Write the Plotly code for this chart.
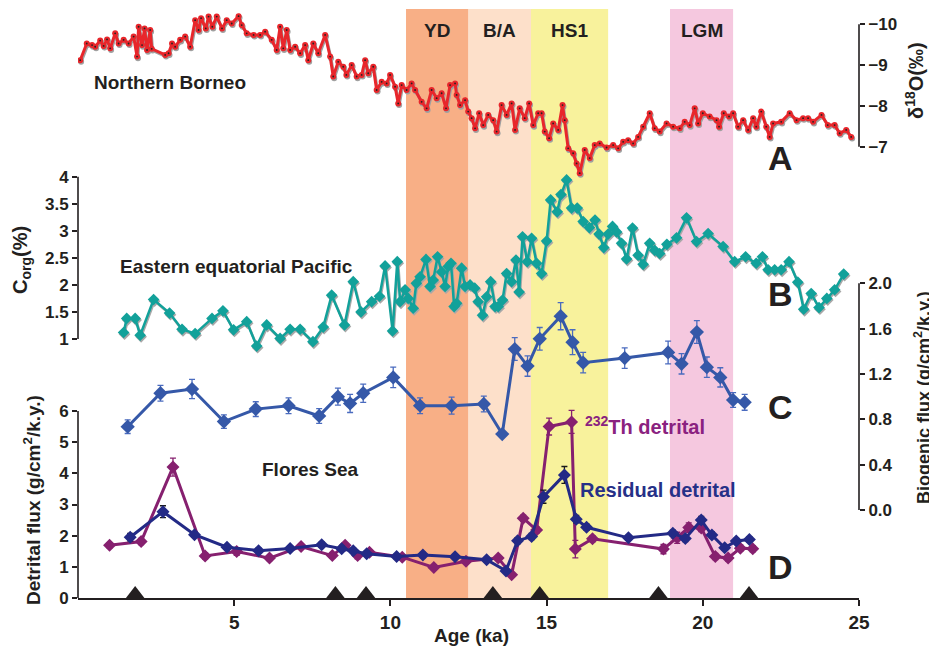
import plotly.graph_objects as go

# ---------------- data ----------------
# A: Northern Borneo speleothem d18O (permil)
a_age = [0.07,0.28,0.45,0.55,0.71,0.82,0.93,1.03,1.19,1.30,1.46,1.62,1.78,1.89,1.94,2.05,2.13,2.21,2.31,2.36,
         2.79,2.90,3.01,3.11,3.27,3.43,3.59,3.75,3.86,3.94,4.09,4.18,4.30,4.44,4.61,4.76,4.92,5.14,5.24,5.40,
         5.62,5.83,5.99,6.20,6.36,6.47,6.57,6.68,6.79,6.95,7.11,7.27,7.37,7.53,7.69,7.91,8.07,8.17,8.33,8.49,
         8.59,8.76,8.92,9.08,9.19,9.29,9.45,9.56,9.72,9.88,9.99,10.15,10.25,10.36,10.52,10.68,10.79,11.00,11.16,11.32,
         11.48,11.64,11.78,11.91,12.07,12.12,12.23,12.39,12.49,12.60,12.71,12.84,12.97,13.13,13.29,13.40,13.56,13.72,13.88,13.99,
         14.14,14.30,14.44,14.57,14.73,14.84,14.94,15.08,15.21,15.37,15.51,15.58,15.69,15.85,15.96,16.06,16.22,16.38,16.54,16.70,
         16.92,17.13,17.29,17.45,17.61,17.77,17.93,18.09,18.30,18.46,18.62,18.84,19.05,19.26,19.42,19.58,19.74,19.85,20.00,20.22,
         20.44,20.52,20.67,20.84,20.97,21.13,21.29,21.45,21.61,21.71,21.87,22.03,22.14,22.25,22.51,22.78,23.00,23.21,23.37,23.53,
         23.80,24.00,24.22,24.38,24.59,24.75]
a_d18o = [-9.12,-9.53,-9.49,-9.45,-9.60,-9.47,-9.63,-9.41,-9.78,-9.53,-9.62,-9.53,-9.70,-9.21,-9.94,-9.49,-9.90,-9.37,-9.86,-9.40,
          -9.25,-9.29,-9.53,-9.45,-9.62,-9.70,-9.45,-10.10,-9.86,-10.15,-9.90,-10.19,-9.94,-10.19,-9.90,-10.10,-10.02,-10.20,-9.98,-9.78,
          -9.74,-9.74,-9.82,-9.62,-9.37,-9.94,-9.41,-9.86,-9.37,-9.45,-9.29,-9.49,-9.12,-9.53,-9.29,-9.74,-9.21,-8.72,-9.08,-8.96,
          -8.76,-9.00,-8.72,-8.76,-9.12,-8.80,-8.96,-8.39,-8.59,-8.55,-8.76,-8.47,-8.06,-8.51,-8.39,-8.55,-8.39,-8.10,-7.94,-8.39,
          -8.19,-8.31,-7.94,-8.51,-8.55,-8.27,-8.02,-8.14,-7.86,-7.70,-7.45,-7.82,-7.53,-7.78,-7.65,-7.37,-8.02,-7.78,-8.06,-7.41,
          -7.94,-7.70,-8.06,-7.53,-7.82,-7.82,-7.37,-7.21,-7.57,-7.41,-8.02,-7.65,-6.96,-6.84,-6.59,-6.35,-6.92,-6.72,-7.04,-7.08,
          -6.98,-7.04,-6.96,-7.12,-7.16,-7.08,-7.24,-7.49,-7.82,-7.45,-7.37,-7.57,-7.49,-7.45,-7.61,-7.53,-7.94,-7.57,-7.82,-7.74,
          -7.65,-7.49,-7.82,-7.74,-7.82,-7.49,-7.65,-7.41,-7.70,-7.49,-7.86,-7.49,-7.24,-7.57,-7.61,-7.82,-7.65,-7.70,-7.70,-7.61,
          -7.78,-7.53,-7.53,-7.33,-7.41,-7.24]

# B: Eastern equatorial Pacific Corg (%)
b_age = [1.46,1.56,1.83,1.99,2.42,2.93,3.33,3.75,4.29,4.64,4.98,5.40,5.72,6.04,6.47,6.79,7.11,7.52,7.85,8.12,
         8.53,8.81,9.06,9.40,9.65,9.83,10.07,10.22,10.31,10.47,10.57,10.73,10.83,10.95,11.14,11.27,11.37,11.51,11.64,11.75,
         11.85,11.94,12.04,12.12,12.28,12.39,12.55,12.70,12.81,12.95,13.08,13.21,13.35,13.45,13.59,13.72,13.88,14.02,14.12,14.23,
         14.38,14.52,14.68,14.84,15.00,15.13,15.34,15.46,15.64,15.80,15.98,16.17,16.37,16.55,16.68,16.83,16.97,17.11,17.24,17.40,
         17.56,17.75,17.93,18.09,18.30,18.46,18.62,18.85,19.16,19.48,19.80,20.17,20.65,21.02,21.37,21.71,21.91,22.09,22.30,22.51,
         22.76,23.04,23.23,23.47,23.72,23.97,24.22,24.51]
b_corg = [1.12,1.38,1.38,1.07,1.73,1.48,1.18,1.10,1.38,1.52,1.17,1.32,0.87,1.26,1.01,1.18,1.18,0.95,1.22,1.81,
          1.26,2.06,1.50,1.69,1.79,2.35,1.15,2.43,1.69,1.91,1.75,1.57,2.03,2.15,2.47,1.97,2.09,2.52,2.24,1.97,
          2.34,2.40,1.60,1.66,2.31,1.97,2.00,1.94,1.69,1.44,1.78,2.06,1.60,1.60,1.72,2.21,2.06,2.46,1.87,2.89,
          2.43,2.86,2.40,2.21,2.81,3.57,3.35,3.67,3.94,3.42,3.42,3.17,3.06,3.20,2.94,2.69,2.94,3.08,2.98,2.77,
          2.48,3.05,2.55,2.38,2.77,2.64,2.58,2.75,2.87,3.24,2.80,2.95,2.71,2.43,2.52,2.40,2.52,2.28,2.28,2.28,
          2.43,2.05,1.55,1.84,1.58,1.75,1.91,2.20]

# C: Flores Sea biogenic flux (g/cm2/k.y.)
c_age = [1.59,2.64,3.65,4.67,5.69,6.74,7.72,8.32,8.71,9.13,10.09,10.95,11.96,12.99,13.58,13.98,14.39,14.78,15.45,15.83,
         16.17,17.50,18.89,19.32,19.81,20.13,20.56,20.97,21.34]
c_flux = [0.735,1.03,1.067,0.78,0.89,0.92,0.83,1.00,0.94,1.03,1.17,0.92,0.92,0.935,0.67,1.42,1.27,1.51,1.71,1.48,
          1.30,1.34,1.39,1.29,1.57,1.26,1.17,0.97,0.95]
c_err = [0.06,0.07,0.085,0.06,0.065,0.07,0.065,0.075,0.08,0.08,0.09,0.07,0.075,0.07,0.02,0.10,0.09,0.10,0.12,0.11,
         0.09,0.09,0.10,0.09,0.10,0.09,0.085,0.065,0.07]

# D: Flores Sea detrital fluxes (g/cm2/k.y.)
res_age = [1.67,2.72,3.73,4.77,5.78,6.79,7.80,8.44,8.81,9.24,10.20,11.04,12.07,13.08,13.70,14.07,14.52,14.90,15.57,15.95,
           16.28,17.62,19.04,19.44,19.95,20.29,20.70,21.07,21.49]
res_flux = [1.95,2.77,2.03,1.63,1.52,1.59,1.71,1.58,1.52,1.42,1.33,1.38,1.32,1.23,0.87,1.84,1.97,3.25,3.95,2.53,
            2.27,1.93,2.08,1.91,2.50,2.02,1.61,1.83,1.88]
res_err = [0.12,0.19,0.08,0.08,0.08,0.08,0.08,0.08,0.08,0.08,0.08,0.08,0.07,0.07,0.05,0.10,0.10,0.21,0.27,0.12,
           0.10,0.08,0.10,0.10,0.12,0.10,0.08,0.08,0.09]

th_age = [1.01,2.02,3.04,4.07,5.08,6.13,7.14,8.14,8.55,8.95,9.33,10.38,11.39,12.42,13.45,13.88,14.25,14.68,15.08,15.80,
          15.92,16.47,18.74,19.18,19.55,19.95,20.40,20.81,21.20,21.60]
th_flux = [1.69,1.81,4.20,1.35,1.49,1.28,1.65,1.36,1.69,1.36,1.47,1.31,0.98,1.18,1.28,0.75,2.56,2.18,5.50,5.65,
           1.57,1.90,1.57,1.93,2.26,2.25,1.33,1.28,1.60,1.58]
th_err = [0.08,0.10,0.29,0.10,0.12,0.08,0.08,0.08,0.08,0.10,0.08,0.08,0.07,0.07,0.07,0.05,0.10,0.10,0.27,0.37,
          0.28,0.10,0.15,0.18,0.15,0.12,0.10,0.10,0.10,0.10]

# age control points (triangles)
tie_age = [1.83,8.24,9.22,13.28,14.78,18.58,21.48]

# climate intervals
bands = [("YD", 10.5, 12.5, "#F8AF86"),
         ("B/A", 12.5, 14.5, "#FDE0CA"),
         ("HS1", 14.5, 16.97, "#F8F29C"),
         ("LGM", 18.95, 20.97, "#F5C8DF")]

x_ticks = [5, 10, 15, 20, 25]

# ---------------- layout helpers ----------------
OFF = 8                       # page body margin of the browser
W, H = 937 - OFF, 648 - OFF
L, R, T, B = 70, 78, 1, 50
PT, PB = T, H - B
FONT = "Liberation Sans"
DARK = "#231F20"

def yrange(v1, p1, v2, p2):
    p1 -= OFF
    p2 -= OFF
    s = (v2 - v1) / (p2 - p1)
    return [v1 + (PB - p1) * s, v1 + (PT - p1) * s]

def paper(x, y):
    x -= OFF
    y -= OFF
    return (x - L) / (W - L - R), (PB - y) / (PB - PT)

fig = go.Figure()

# D traces (yaxis y)
fig.add_trace(go.Scatter(x=th_age, y=th_flux, mode="lines+markers", yaxis="y",
                         line=dict(color="#86206F", width=3),
                         marker=dict(symbol="diamond", size=10, color="#86206F"),
                         error_y=dict(type="data", array=th_err, color="#86206F", thickness=1.3, width=3),
                         showlegend=False))
fig.add_trace(go.Scatter(x=res_age, y=res_flux, mode="lines+markers", yaxis="y",
                         line=dict(color="#232A86", width=3),
                         marker=dict(symbol="diamond", size=10, color="#232A86"),
                         error_y=dict(type="data", array=res_err, color="#1a1a1a", thickness=1.3, width=3),
                         showlegend=False))
fig.add_trace(go.Scatter(x=tie_age, y=[0.13] * len(tie_age), mode="markers", yaxis="y",
                         marker=dict(symbol="triangle-up", size=16, color="#231F20"),
                         cliponaxis=False, showlegend=False))

# B trace (yaxis y2)
fig.add_trace(go.Scatter(x=[v + 0.03 for v in b_age], y=[v - 0.03 for v in b_corg], mode="lines+markers",
                         yaxis="y2", line=dict(color="#A8A8A8", width=2.5),
                         marker=dict(symbol="diamond", size=9, color="#A8A8A8"), showlegend=False))
fig.add_trace(go.Scatter(x=b_age, y=b_corg, mode="lines+markers", yaxis="y2",
                         line=dict(color="#12A19A", width=2.5),
                         marker=dict(symbol="diamond", size=9, color="#12A19A"), showlegend=False))

# C trace (yaxis y3)
fig.add_trace(go.Scatter(x=c_age, y=c_flux, mode="lines+markers", yaxis="y3",
                         line=dict(color="#3558A8", width=3),
                         marker=dict(symbol="diamond", size=11, color="#3558A8"),
                         error_y=dict(type="data", array=c_err, color="#4A6BBF", thickness=1.3, width=3),
                         showlegend=False))

# A trace (yaxis y4)
fig.add_trace(go.Scatter(x=[v + 0.03 for v in a_age], y=[v + 0.04 for v in a_d18o], mode="lines+markers",
                         yaxis="y4", line=dict(color="#A0A0A0", width=3),
                         marker=dict(size=6, color="#A0A0A0"), showlegend=False))
fig.add_trace(go.Scatter(x=a_age, y=a_d18o, mode="lines+markers", yaxis="y4",
                         line=dict(color="#E8262B", width=3),
                         marker=dict(size=6, color="#E8262B"), showlegend=False))
fig.add_trace(go.Scatter(x=a_age, y=a_d18o, mode="markers", yaxis="y4",
                         marker=dict(size=1.8, color="#222222"), showlegend=False))

# bands
shapes = []
for name, x0, x1, col in bands:
    shapes.append(dict(type="rect", xref="x", yref="paper", x0=x0, x1=x1, y0=0, y1=1,
                       fillcolor=col, line=dict(width=0), layer="below"))
# axis spines
spine = dict(color=DARK, width=1.6)
shapes += [
    dict(type="line", xref="paper", yref="y4", x0=1, x1=1, y0=-10, y1=-7, line=spine),
    dict(type="line", xref="paper", yref="y2", x0=0, x1=0, y0=1, y1=4, line=spine),
    dict(type="line", xref="paper", yref="y3", x0=1, x1=1, y0=0, y1=2, line=spine),
    dict(type="line", xref="paper", yref="y", x0=0, x1=0, y0=0, y1=6, line=spine),
]

ann = []
def add_text(text, x, y, size=20, color=DARK, angle=0):
    px_, py_ = paper(x, y)
    ann.append(dict(text=text, x=px_, y=py_, xref="paper", yref="paper", showarrow=False,
                    xanchor="center", yanchor="middle", textangle=angle,
                    font=dict(family=FONT, size=size, color=color, weight="bold")))

for name, x0, x1, col in bands:
    cx = OFF + L + (x0 + x1) / 2 * (W - L - R) / 25
    add_text(name, cx, 30, size=19)

add_text("Northern Borneo", 170, 83, 19)
add_text("Eastern equatorial Pacific", 236, 266, 19)
add_text("Flores Sea", 310, 470, 19)
add_text("<sup>232</sup>Th detrital", 645, 425, 20, "#8A2280")
add_text("Residual detrital", 658, 490, 20, "#263087")
add_text("A", 780, 158, 34)
add_text("B", 780, 294, 34)
add_text("C", 780, 407, 34)
add_text("D", 780, 567, 34)
add_text("δ<sup>18</sup>O(‰)", 914, 80, 20, angle=-90)
add_text("Biogenic flux (g/cm<sup>2</sup>/k.y.)", 922, 397, 18, angle=-90)
add_text("C<sub>org</sub>(%)", 21, 260, 20, angle=-90)
add_text("Detrital flux (g/cm<sup>2</sup>/k.y.)", 32, 500, 19, angle=-90)
add_text("Age (ka)", 471, 635, 19)

tickfont = dict(family=FONT, size=17, color=DARK, weight="bold")
common_y = dict(showgrid=False, zeroline=False, showline=False, ticks="outside", ticklen=5,
                tickwidth=1.5, tickcolor=DARK, tickfont=tickfont, fixedrange=True)

fig.update_layout(
    width=W, height=H,
    margin=dict(l=L, r=R, t=T, b=B, autoexpand=False),
    paper_bgcolor="white", plot_bgcolor="rgba(0,0,0,0)",
    font=dict(family=FONT, color=DARK),
    xaxis=dict(range=[0, 25], showgrid=False, zeroline=False, showline=True, linecolor=DARK, linewidth=2,
               ticks="outside", ticklen=6, tickwidth=1.5, tickcolor=DARK, tickvals=x_ticks,
               tickfont=dict(family=FONT, size=19, color=DARK, weight="bold"), anchor="y"),
    yaxis=dict(range=yrange(0, 598, 6, 411), side="left", tickvals=[0, 1, 2, 3, 4, 5, 6], **common_y),
    yaxis2=dict(range=yrange(1, 339, 4, 176.7), side="left", overlaying="y", anchor="x",
                tickvals=[1, 1.5, 2, 2.5, 3, 3.5, 4], **common_y),
    yaxis3=dict(range=yrange(0, 510, 2, 283.3), side="right", overlaying="y", anchor="x",
                tickvals=[0, 0.4, 0.8, 1.2, 1.6, 2.0], tickformat=".1f", **common_y),
    yaxis4=dict(range=yrange(-10, 24.3, -7, 146.7), side="right", overlaying="y", anchor="x",
                tickvals=[-10, -9, -8, -7], **common_y),
    shapes=shapes,
    annotations=ann,
)

fig.write_html("out.html")
